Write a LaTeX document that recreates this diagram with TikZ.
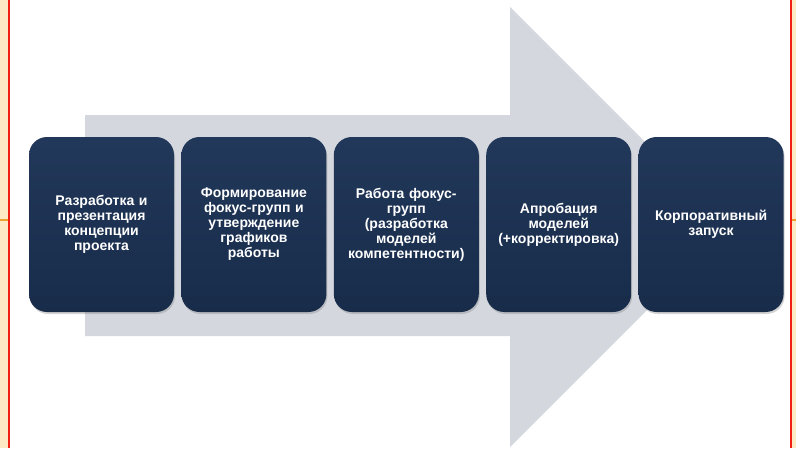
\documentclass[tikz,border=0pt]{standalone}
\usepackage{fontspec}
\setmainfont{Liberation Sans}
\usepackage{tikz}
\usepackage{xcolor}
\usetikzlibrary{positioning,shadows}

\definecolor{stagenavy}{HTML}{182C4A}
\definecolor{stagetop}{HTML}{22385A}
\definecolor{arrowgray}{HTML}{D4D8DE}
\definecolor{framered}{HTML}{F01E14}
\definecolor{frameorange}{HTML}{F0A030}
\definecolor{framecream}{HTML}{FDEAC4}

\begin{document}
\begin{tikzpicture}[
    x=1pt, y=-1pt,
    node distance=7pt,
    stage/.style={rectangle, rounded corners=18pt, top color=stagetop, bottom color=stagenavy, draw=none, minimum width=145pt, minimum height=175pt, text width=138pt, align=center, text=white, font=\fontsize{14}{15}\selectfont\bfseries, drop shadow={opacity=0.35, shadow xshift=1pt, shadow yshift=-2pt}},
    edge/.style={line width=1.6pt}
]
\useasboundingbox (0,0) rectangle (796,448);

% Frame
\fill[framecream] (0,0) rectangle (8,448);
\fill[framecream] (791,0) rectangle (796,448);
\draw[edge, framered] (9,0) -- (9,448);
\draw[edge, framered] (791,0) -- (791,448);
\draw[edge, frameorange] (0,220) -- (8,220);
\draw[edge, frameorange] (792,220) -- (796,220);

% Big arrow
\fill[arrowgray] (85,115) -- (510,115) -- (510,7) -- (730,227) -- (510,447) -- (510,336) -- (85,336) -- cycle;

% Stages
\node[stage] (stage1) at (101.5,224.5) {Разработка и\\презентация\\концепции\\проекта};
\node[stage, right=of stage1] (stage2) {Формирование\\фокус-групп и\\утверждение\\графиков\\работы};
\node[stage, right=of stage2] (stage3) {Работа фокус-\\групп\\(разработка\\моделей\\компетентности)};
\node[stage, right=of stage3] (stage4) {Апробация\\моделей\\(+корректировка)};
\node[stage, right=of stage4] (stage5) {Корпоративный\\запуск};

\end{tikzpicture}
\end{document}
